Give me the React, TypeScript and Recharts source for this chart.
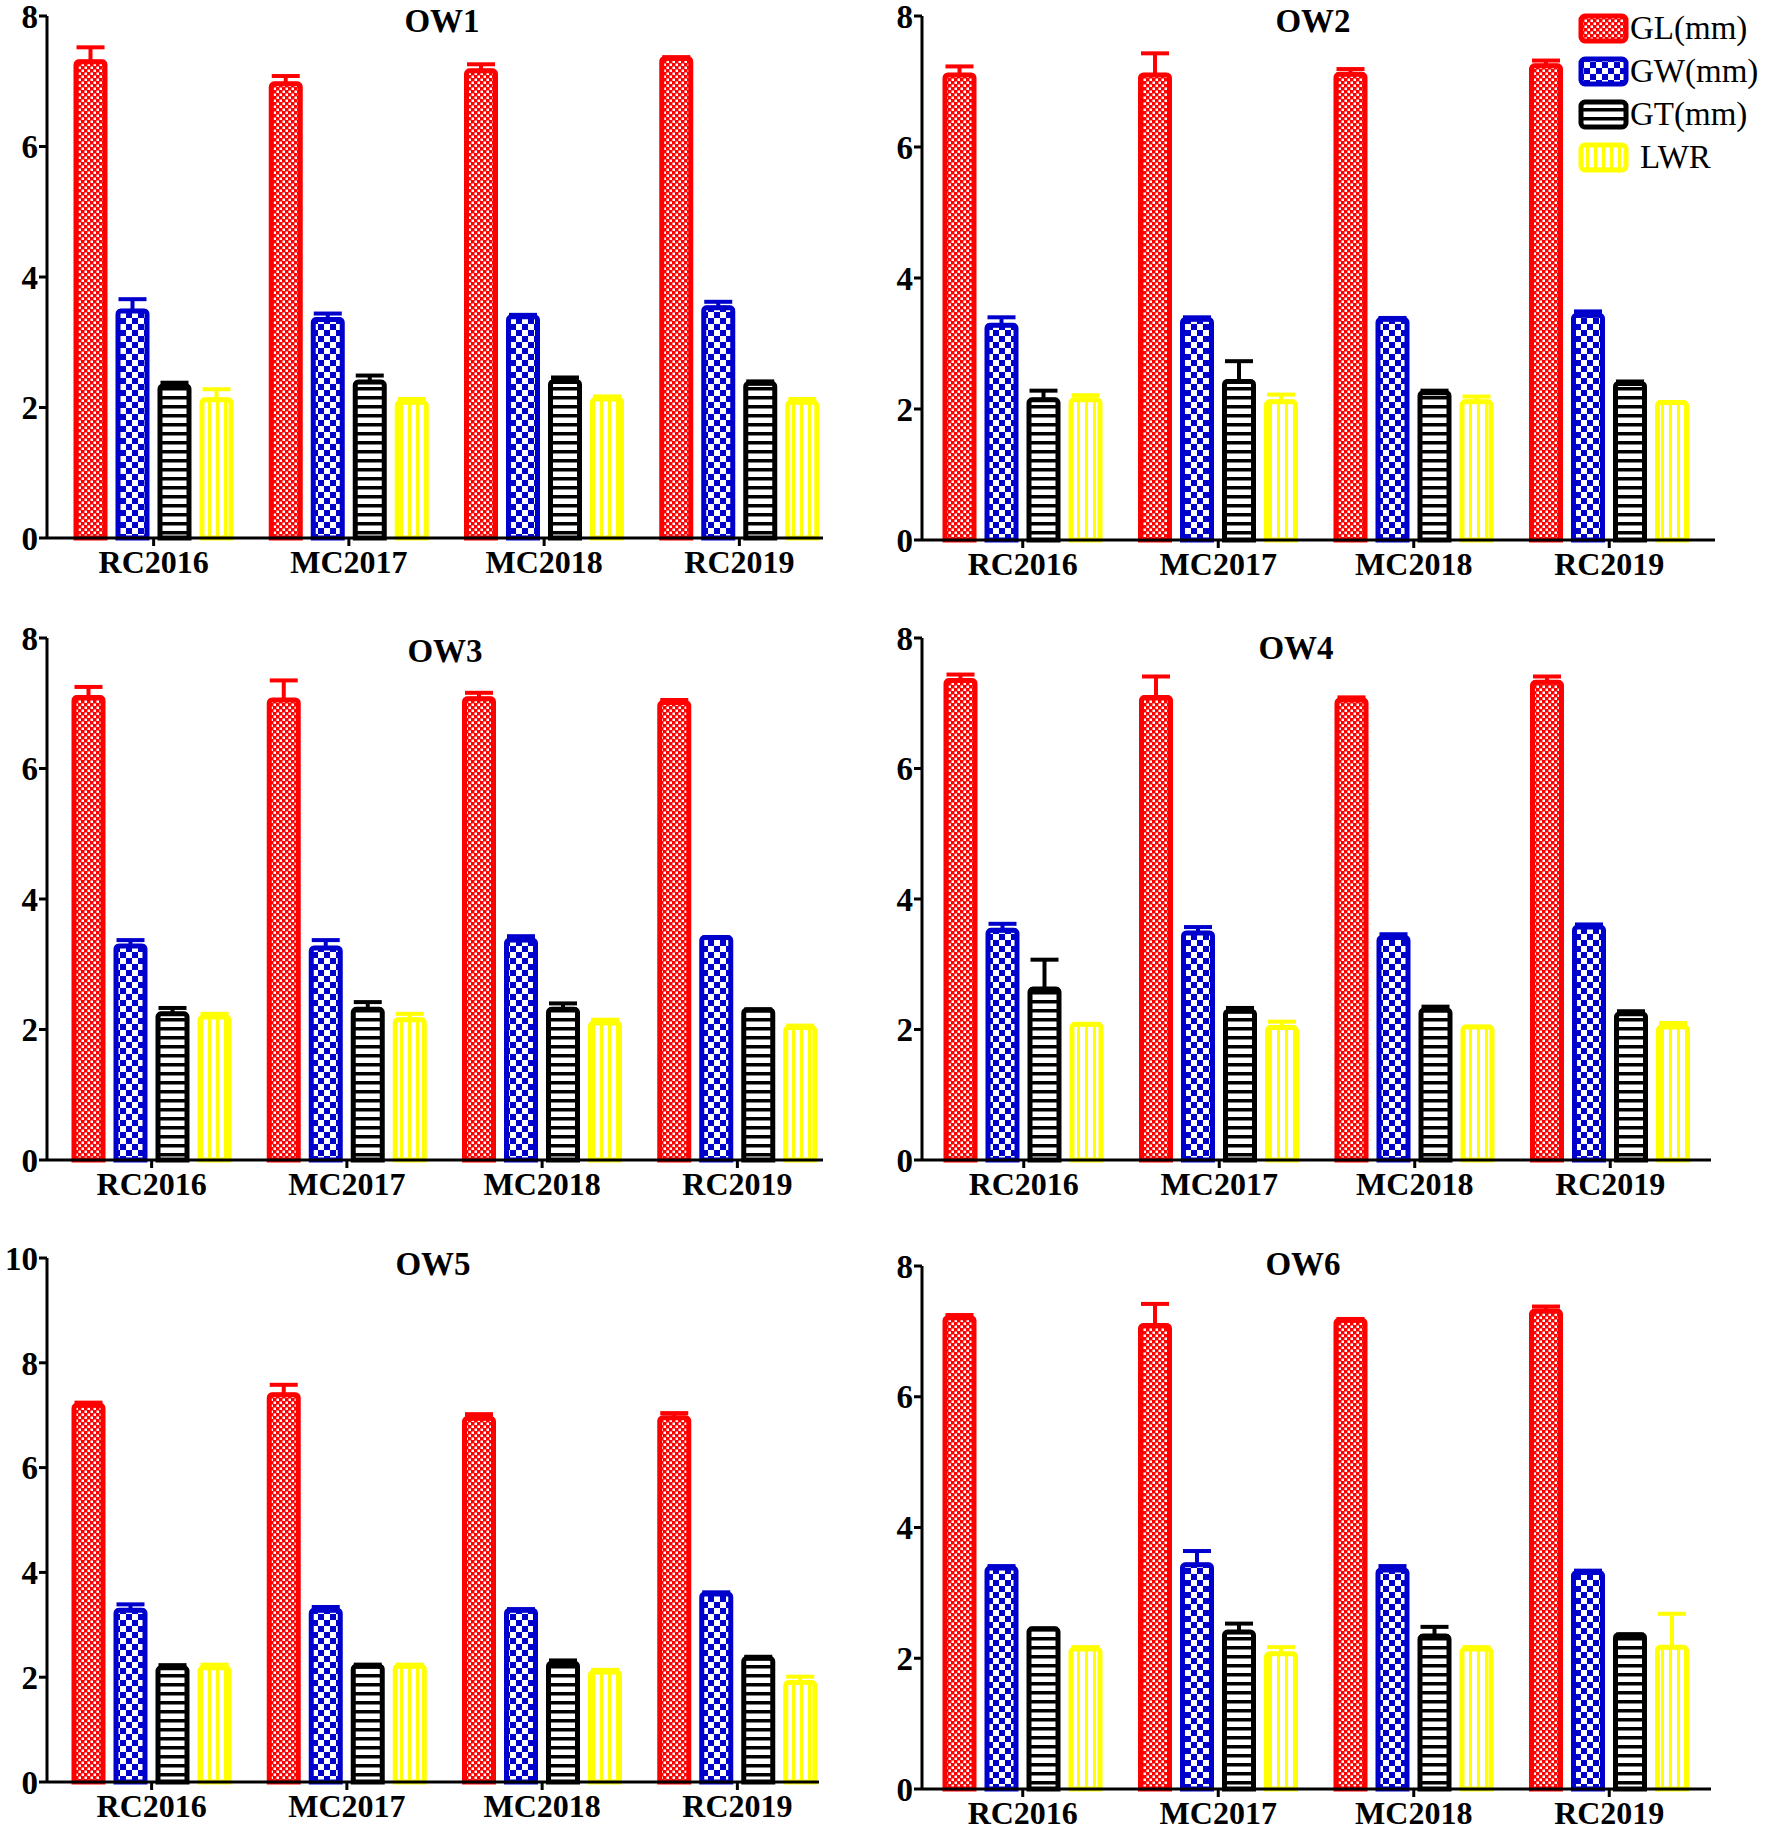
import React from 'react';
import { BarChart, Bar, XAxis, YAxis, ErrorBar, Legend } from 'recharts';

const CATEGORIES = ['RC2016', 'MC2017', 'MC2018', 'RC2019'];
const SERIES = ['GL(mm)', 'GW(mm)', 'GT(mm)', 'LWR'];
const Y_TICKS_8 = [0, 2, 4, 6, 8];
const Y_TICKS_10 = [0, 2, 4, 6, 8, 10];

// OW1
const OW1_GL = [7.30, 6.96, 7.16, 7.35];
const OW1_GL_SD = [0.22, 0.12, 0.10, 0.02];
const OW1_GW = [3.48, 3.35, 3.39, 3.53];
const OW1_GW_SD = [0.18, 0.09, 0.03, 0.09];
const OW1_GT = [2.33, 2.39, 2.40, 2.37];
const OW1_GT_SD = [0.05, 0.10, 0.06, 0.03];
const OW1_LWR = [2.12, 2.08, 2.13, 2.08];
const OW1_LWR_SD = [0.16, 0.05, 0.04, 0.05];

// OW2
const OW2_GL = [7.10, 7.10, 7.11, 7.24];
const OW2_GL_SD = [0.13, 0.33, 0.08, 0.08];
const OW2_GW = [3.28, 3.37, 3.37, 3.43];
const OW2_GW_SD = [0.12, 0.03, 0.02, 0.06];
const OW2_GT = [2.14, 2.42, 2.25, 2.39];
const OW2_GT_SD = [0.14, 0.31, 0.03, 0.03];
const OW2_LWR = [2.14, 2.11, 2.11, 2.10];
const OW2_LWR_SD = [0.07, 0.11, 0.08, 0];

// OW3
const OW3_GL = [7.09, 7.05, 7.07, 7.01];
const OW3_GL_SD = [0.16, 0.30, 0.09, 0.04];
const OW3_GW = [3.28, 3.25, 3.37, 3.41];
const OW3_GW_SD = [0.09, 0.12, 0.06, 0];
const OW3_GT = [2.24, 2.31, 2.31, 2.30];
const OW3_GT_SD = [0.09, 0.11, 0.09, 0.01];
const OW3_LWR = [2.19, 2.15, 2.10, 2.03];
const OW3_LWR_SD = [0.05, 0.09, 0.05, 0.03];

// OW4
const OW4_GL = [7.35, 7.09, 7.05, 7.32];
const OW4_GL_SD = [0.09, 0.32, 0.04, 0.09];
const OW4_GW = [3.52, 3.48, 3.41, 3.57];
const OW4_GW_SD = [0.10, 0.09, 0.05, 0.04];
const OW4_GT = [2.62, 2.28, 2.30, 2.24];
const OW4_GT_SD = [0.45, 0.05, 0.05, 0.04];
const OW4_LWR = [2.08, 2.03, 2.04, 2.04];
const OW4_LWR_SD = [0, 0.09, 0, 0.06];

// OW5
const OW5_GL = [7.19, 7.39, 6.94, 6.95];
const OW5_GL_SD = [0.05, 0.19, 0.08, 0.09];
const OW5_GW = [3.28, 3.28, 3.28, 3.59];
const OW5_GW_SD = [0.11, 0.06, 0.02, 0.03];
const OW5_GT = [2.18, 2.21, 2.27, 2.36];
const OW5_GT_SD = [0.05, 0.03, 0.05, 0.03];
const OW5_LWR = [2.18, 2.21, 2.10, 1.90];
const OW5_LWR_SD = [0.06, 0.03, 0.04, 0.11];

// OW6
const OW6_GL = [7.21, 7.09, 7.17, 7.31];
const OW6_GL_SD = [0.04, 0.33, 0.02, 0.07];
const OW6_GW = [3.38, 3.43, 3.35, 3.31];
const OW6_GW_SD = [0.03, 0.21, 0.06, 0.03];
const OW6_GT = [2.45, 2.40, 2.34, 2.36];
const OW6_GT_SD = [0, 0.13, 0.14, 0];
const OW6_LWR = [2.14, 2.07, 2.14, 2.17];
const OW6_LWR_SD = [0.03, 0.10, 0.03, 0.51];

const buildRows = (gl, glSd, gw, gwSd, gt, gtSd, lwr, lwrSd) =>
  CATEGORIES.map((name, i) => ({
    name,
    GL: gl[i], GLe: [0, glSd[i]],
    GW: gw[i], GWe: [0, gwSd[i]],
    GT: gt[i], GTe: [0, gtSd[i]],
    LWR: lwr[i], LWRe: [0, lwrSd[i]],
  }));

const STYLE = [
  { key: 'GL', color: '#ff0000', pattern: 'url(#pGL)' },
  { key: 'GW', color: '#0000cc', pattern: 'url(#pGW)' },
  { key: 'GT', color: '#000000', pattern: 'url(#pGT)' },
  { key: 'LWR', color: '#ffff00', pattern: 'url(#pLWR)' },
];

const FONT = '"Liberation Serif", "Times New Roman", serif';

const PANELS = [
  { title: 'OW1', tx: 442, ty: 21, left: 0, plotLeft: 47, plotRight: 823, plotTop: 16, plotBottom: 538, pad: { left: 9, right: -14 }, ticks: Y_TICKS_8,
    data: buildRows(OW1_GL, OW1_GL_SD, OW1_GW, OW1_GW_SD, OW1_GT, OW1_GT_SD, OW1_LWR, OW1_LWR_SD) },
  { title: 'OW2', tx: 1313, ty: 21, left: 885, plotLeft: 922, plotRight: 1715, plotTop: 16, plotBottom: 540, pad: { left: 3, right: 8 }, ticks: Y_TICKS_8, legend: true,
    data: buildRows(OW2_GL, OW2_GL_SD, OW2_GW, OW2_GW_SD, OW2_GT, OW2_GT_SD, OW2_LWR, OW2_LWR_SD) },
  { title: 'OW3', tx: 445, ty: 651, left: 0, plotLeft: 47, plotRight: 823, plotTop: 638, plotBottom: 1160, pad: { left: 7, right: -12 }, ticks: Y_TICKS_8,
    data: buildRows(OW3_GL, OW3_GL_SD, OW3_GW, OW3_GW_SD, OW3_GT, OW3_GT_SD, OW3_LWR, OW3_LWR_SD) },
  { title: 'OW4', tx: 1296, ty: 648, left: 885, plotLeft: 922, plotRight: 1711, plotTop: 638, plotBottom: 1160, pad: { left: 4, right: 3 }, ticks: Y_TICKS_8,
    data: buildRows(OW4_GL, OW4_GL_SD, OW4_GW, OW4_GW_SD, OW4_GT, OW4_GT_SD, OW4_LWR, OW4_LWR_SD) },
  { title: 'OW5', tx: 433, ty: 1264, left: 0, plotLeft: 47, plotRight: 819, plotTop: 1258, plotBottom: 1782, pad: { left: 7, right: -16 }, ticks: Y_TICKS_10,
    data: buildRows(OW5_GL, OW5_GL_SD, OW5_GW, OW5_GW_SD, OW5_GT, OW5_GT_SD, OW5_LWR, OW5_LWR_SD) },
  { title: 'OW6', tx: 1303, ty: 1264, left: 885, plotLeft: 922, plotRight: 1711, plotTop: 1266, plotBottom: 1789, pad: { left: 3, right: 4 }, ticks: Y_TICKS_8,
    data: buildRows(OW6_GL, OW6_GL_SD, OW6_GW, OW6_GW_SD, OW6_GT, OW6_GT_SD, OW6_LWR, OW6_LWR_SD) },
];

const Patterns = () => (
  <svg width={0} height={0} style={{ position: 'absolute' }}>
    <defs>
      <pattern id="pGL" width={6} height={6} patternUnits="userSpaceOnUse">
        <rect width={6} height={6} fill="#ff0000" />
        <rect x={0.5} y={0.5} width={2.5} height={2.5} fill="#ffffff" />
        <rect x={3.5} y={3.5} width={2.5} height={2.5} fill="#ffffff" />
      </pattern>
      <pattern id="pGW" width={12} height={12} patternUnits="userSpaceOnUse">
        <rect width={12} height={12} fill="#0000cc" />
        <rect x={0} y={0} width={6} height={6} fill="#ffffff" />
        <rect x={6} y={6} width={6} height={6} fill="#ffffff" />
      </pattern>
      <pattern id="pGT" width={9} height={9} patternUnits="userSpaceOnUse">
        <rect width={9} height={9} fill="#ffffff" />
        <rect x={0} y={0} width={9} height={3.5} fill="#000000" />
      </pattern>
      <pattern id="pLWR" width={8} height={8} patternUnits="userSpaceOnUse">
        <rect width={8} height={8} fill="#ffffff" />
        <rect x={0} y={0} width={3} height={8} fill="#ffff00" />
      </pattern>
    </defs>
  </svg>
);

const renderLegend = () => (
  <div style={{ fontFamily: FONT, fontSize: 33, color: '#000' }}>
    {SERIES.map((label, i) => (
      <div key={label} style={{ display: 'flex', alignItems: 'center', height: 43 }}>
        <svg width={52} height={32}>
          <rect x={3} y={3} width={45} height={25} rx={4} fill={STYLE[i].pattern} stroke={STYLE[i].color} strokeWidth={5} />
        </svg>
        <span style={{ marginLeft: i === 3 ? 10 : 0, lineHeight: 1 }}>{label}</span>
      </div>
    ))}
  </div>
);

const xTickStyle = { fontFamily: FONT, fontWeight: 'bold', fontSize: 32, fill: '#000' };
const yTickStyle = { fontFamily: FONT, fontWeight: 'bold', fontSize: 33, fill: '#000' };

const Panel = ({ p }) => {
  const chartTop = Math.max(0, p.plotTop - 16);
  const xAxisH = 46;
  const width = 885;
  const height = p.plotBottom - chartTop + xAxisH + 3;
  const margin = { top: p.plotTop - chartTop, left: 0, right: p.left + width - p.plotRight, bottom: 3 };
  return (
    <div style={{ position: 'absolute', left: p.left, top: chartTop, width, height }}>
      <BarChart width={width} height={height} data={p.data} margin={margin} barSize={29} barGap={13}>
        <XAxis
          dataKey="name"
          height={xAxisH}
          padding={p.pad}
          tick={xTickStyle}
          tickSize={8}
          tickMargin={4}
          axisLine={{ stroke: '#000', strokeWidth: 3 }}
          tickLine={{ stroke: '#000', strokeWidth: 3 }}
        />
        <YAxis
          width={p.plotLeft - p.left}
          domain={[0, p.ticks[p.ticks.length - 1]]}
          ticks={p.ticks}
          interval={0}
          tick={yTickStyle}
          tickSize={8}
          tickMargin={1}
          axisLine={{ stroke: '#000', strokeWidth: 3 }}
          tickLine={{ stroke: '#000', strokeWidth: 3 }}
        />
        {STYLE.map((s) => (
          <Bar key={s.key} dataKey={s.key} fill={s.pattern} stroke={s.color} strokeWidth={5} radius={[3, 3, 0, 0]} isAnimationActive={false}>
            <ErrorBar dataKey={`${s.key}e`} direction="y" width={14} stroke={s.color} strokeWidth={4} isAnimationActive={false} />
          </Bar>
        ))}
        {p.legend && (
          <Legend
            layout="vertical"
            align="center"
            verticalAlign="middle"
            wrapperStyle={{ left: 693, top: 7, width: 195 }}
            content={renderLegend}
          />
        )}
      </BarChart>
      <div
        style={{
          position: 'absolute',
          left: p.tx - p.left,
          top: p.ty - chartTop,
          transform: 'translate(-50%, -50%)',
          fontFamily: FONT,
          fontWeight: 'bold',
          fontSize: 33,
          whiteSpace: 'nowrap',
        }}
      >
        {p.title}
      </div>
    </div>
  );
};

export default function App() {
  return (
    <div style={{ position: 'absolute', left: 0, top: 0, width: 1770, height: 1838, background: '#fff' }}>
      <Patterns />
      {PANELS.map((p) => (
        <Panel key={p.title} p={p} />
      ))}
    </div>
  );
}
